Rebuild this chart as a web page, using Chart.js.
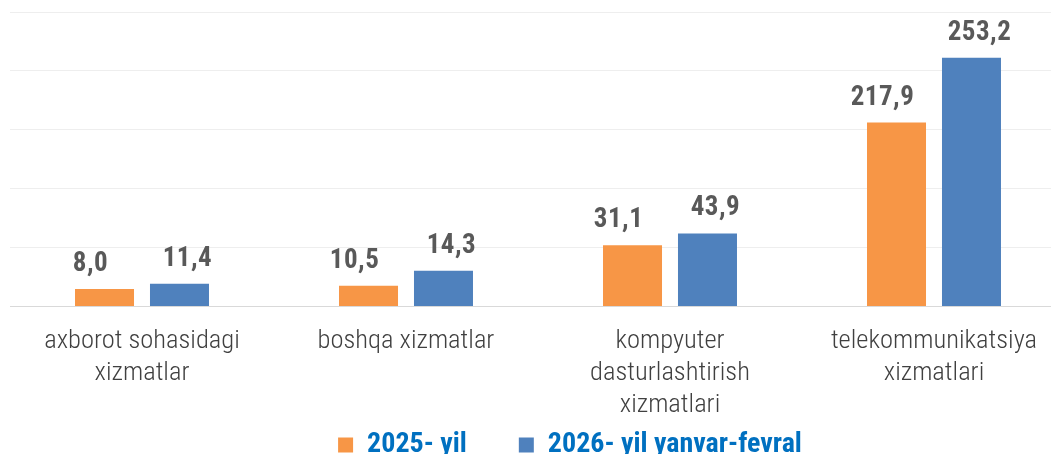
<!DOCTYPE html>
<html>
<head>
<meta charset="utf-8">
<style>
  html, body { margin: 0; padding: 0; background: #ffffff; overflow: hidden; }
  #wrap { width: 1051px; height: 454px; overflow: hidden; position: relative; }
  canvas { display: block; }
</style>
<script src="https://cdn.jsdelivr.net/npm/chart.js@4.4.1/dist/chart.umd.min.js"></script>
</head>
<body>
<div id="wrap"><canvas id="chart" width="1130" height="530"></canvas></div>
<script>
// ---- data ----
const categories = [
  ["axborot sohasidagi", "xizmatlar"],
  ["boshqa xizmatlar"],
  ["kompyuter", "dasturlashtirish", "xizmatlari"],
  ["telekommunikatsiya", "xizmatlari"]
];
const seriesNames = ["2025- yil", "2026- yil yanvar-fevral"];
// bar heights as drawn (read against the gridlines)
const values2025 = [15.0, 17.6, 52.1, 156.2];
const values2026 = [19.3, 30.4, 62.1, 211.1];
// data labels as printed on the chart
const labels2025 = ["8,0", "10,5", "31,1", "217,9"];
const labels2026 = ["11,4", "14,3", "43,9", "253,2"];
const yTicks = [0, 50, 100, 150, 200, 250];

const FONT = "'Roboto Condensed', 'Roboto', sans-serif";

const dataLabelPlugin = {
  id: 'dataLabels',
  afterDatasetsDraw(chart) {
    const ctx = chart.ctx;
    const texts = [labels2025, labels2026];
    const shift = [-14, 8];
    ctx.save();
    ctx.font = "bold 27px " + FONT;
    ctx.fillStyle = "#595959";
    ctx.textAlign = "center";
    ctx.textBaseline = "alphabetic";
    if ('letterSpacing' in ctx) ctx.letterSpacing = "0.5px";
    chart.data.datasets.forEach((ds, di) => {
      const meta = chart.getDatasetMeta(di);
      meta.data.forEach((el, i) => {
        ctx.fillText(texts[di][i], el.x + shift[di], el.y - 18);
      });
    });
    ctx.restore();
  }
};

// the legend sits partly over the bottom of the axis-label block, as in the original
const legendLift = {
  id: 'legendLift',
  afterLayout(chart) {
    const lg = chart.legend;
    if (lg) { lg.top -= 61; lg.bottom -= 61; }
  }
};

new Chart(document.getElementById('chart'), {
  type: 'bar',
  data: {
    labels: categories,
    datasets: [
      { label: seriesNames[0], data: values2025, backgroundColor: '#F79646', borderWidth: 0,
        categoryPercentage: 0.568, barPercentage: 0.787 },
      { label: seriesNames[1], data: values2026, backgroundColor: '#4F81BD', borderWidth: 0,
        categoryPercentage: 0.568, barPercentage: 0.787 }
    ]
  },
  options: {
    responsive: false,
    animation: false,
    devicePixelRatio: 1,
    layout: { padding: { left: 10, right: 0, top: 12, bottom: 0 } },
    plugins: {
      tooltip: { enabled: false },
      legend: {
        position: 'bottom',
        labels: {
          boxWidth: 15,
          boxHeight: 15,
          padding: 52,
          color: '#0070C0',
          font: { family: FONT, size: 28, weight: 'bold' }
        }
      }
    },
    scales: {
      x: {
        grid: { display: false, drawTicks: false },
        border: { display: true, color: '#d9d9d9', width: 1 },
        ticks: {
          color: '#404040',
          font: { family: FONT, size: 26.5, weight: 300, lineHeight: 1.2 },
          padding: 19,
          autoSkip: false,
          maxRotation: 0,
          minRotation: 0
        }
      },
      y: {
        position: 'right',
        min: yTicks[0],
        max: yTicks[yTicks.length - 1],
        afterBuildTicks(scale) { scale.ticks = yTicks.map(v => ({ value: v })); },
        ticks: { display: false },
        border: { display: false },
        grid: {
          drawTicks: false,
          color: (c) => (c.tick && c.tick.value === 0 ? '#d9d9d9' : '#eeeeee'),
          lineWidth: 1
        },
        afterFit(scale) { scale.width = 64; }
      }
    }
  },
  plugins: [dataLabelPlugin, legendLift]
});
</script>
</body>
</html>
